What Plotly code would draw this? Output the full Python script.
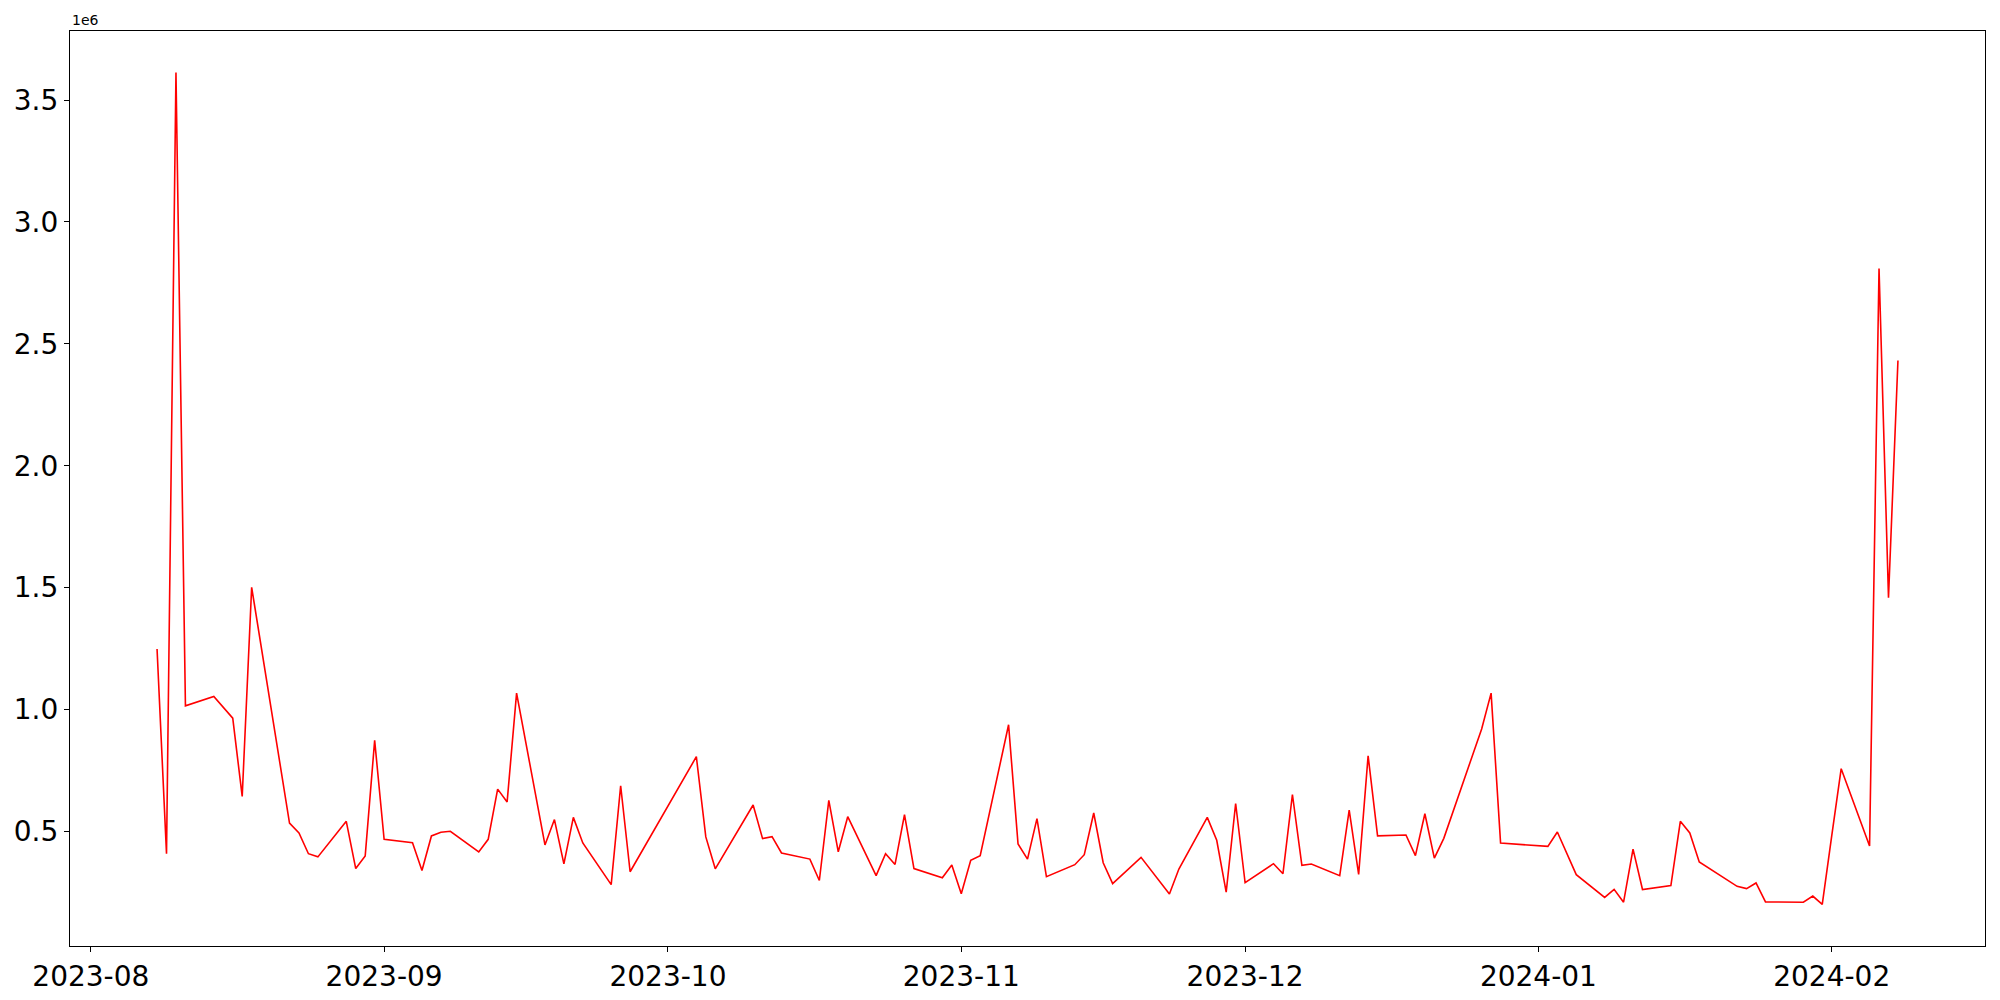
import pandas as pd
import plotly.graph_objects as go

# daily values (units of 1e6)
dates = [
    "2023-08-08", "2023-08-09", "2023-08-10", "2023-08-11", "2023-08-14", "2023-08-16",
    "2023-08-17", "2023-08-18", "2023-08-22", "2023-08-23", "2023-08-24", "2023-08-25",
    "2023-08-28", "2023-08-29", "2023-08-30", "2023-08-31", "2023-09-01", "2023-09-04",
    "2023-09-05", "2023-09-06", "2023-09-07", "2023-09-08", "2023-09-11", "2023-09-12",
    "2023-09-13", "2023-09-14", "2023-09-15", "2023-09-18", "2023-09-19", "2023-09-20",
    "2023-09-21", "2023-09-22", "2023-09-25", "2023-09-26", "2023-09-27", "2023-10-04",
    "2023-10-05", "2023-10-06", "2023-10-10", "2023-10-11", "2023-10-12", "2023-10-13",
    "2023-10-16", "2023-10-17", "2023-10-18", "2023-10-19", "2023-10-20", "2023-10-23",
    "2023-10-24", "2023-10-25", "2023-10-26", "2023-10-27", "2023-10-30", "2023-10-31",
    "2023-11-01", "2023-11-02", "2023-11-03", "2023-11-06", "2023-11-07", "2023-11-08",
    "2023-11-09", "2023-11-10", "2023-11-13", "2023-11-14", "2023-11-15", "2023-11-16",
    "2023-11-17", "2023-11-20", "2023-11-23", "2023-11-24", "2023-11-27", "2023-11-28",
    "2023-11-29", "2023-11-30", "2023-12-01", "2023-12-04", "2023-12-05", "2023-12-06",
    "2023-12-07", "2023-12-08", "2023-12-11", "2023-12-12", "2023-12-13", "2023-12-14",
    "2023-12-15", "2023-12-18", "2023-12-19", "2023-12-20", "2023-12-21", "2023-12-22",
    "2023-12-26", "2023-12-27", "2023-12-28", "2024-01-02", "2024-01-03", "2024-01-05",
    "2024-01-08", "2024-01-09", "2024-01-10", "2024-01-11", "2024-01-12", "2024-01-15",
    "2024-01-16", "2024-01-17", "2024-01-18", "2024-01-22", "2024-01-23", "2024-01-24",
    "2024-01-25", "2024-01-29", "2024-01-30", "2024-01-31", "2024-02-01", "2024-02-02",
    "2024-02-05", "2024-02-06", "2024-02-07", "2024-02-08",
]

values_m = [
    1.248, 0.408, 3.613, 1.015, 1.053, 0.964,
    0.643, 1.501, 0.534, 0.493, 0.408, 0.395,
    0.541, 0.347, 0.399, 0.873, 0.467, 0.453,
    0.339, 0.481, 0.496, 0.500, 0.415, 0.467,
    0.673, 0.620, 1.067, 0.444, 0.548, 0.366,
    0.557, 0.452, 0.281, 0.687, 0.334, 0.806,
    0.477, 0.346, 0.608, 0.470, 0.478, 0.411,
    0.386, 0.298, 0.627, 0.416, 0.560, 0.318,
    0.408, 0.364, 0.568, 0.347, 0.309, 0.362,
    0.244, 0.381, 0.400, 0.937, 0.448, 0.386,
    0.552, 0.314, 0.363, 0.404, 0.575, 0.371,
    0.285, 0.393, 0.243, 0.345, 0.557, 0.463,
    0.250, 0.614, 0.289, 0.367, 0.326, 0.651,
    0.360, 0.366, 0.318, 0.587, 0.323, 0.810,
    0.481, 0.485, 0.400, 0.572, 0.390, 0.471,
    0.920, 1.067, 0.452, 0.438, 0.497, 0.322,
    0.229, 0.262, 0.209, 0.427, 0.261, 0.277,
    0.541, 0.493, 0.374, 0.274, 0.265, 0.288,
    0.210, 0.209, 0.234, 0.200, 0.481, 0.757,
    0.440, 2.809, 1.458, 2.432,
]

ytick_vals = [0.5, 1.0, 1.5, 2.0, 2.5, 3.0, 3.5]

x = pd.to_datetime(dates)
y = [v * 1e6 for v in values_m]

# matplotlib-style 5% margins
span = x.max() - x.min()
x_range = [x.min() - span * 0.05, x.max() + span * 0.05]
vmin, vmax = min(y), max(y)
pad = (vmax - vmin) * 0.05
y_range = [vmin - pad, vmax + pad]

fig = go.Figure(
    go.Scatter(
        x=x,
        y=y,
        mode="lines",
        line=dict(color="red", width=1.6),
        showlegend=False,
    )
)

axis_style = dict(
    showline=True,
    linecolor="black",
    linewidth=1.2,
    mirror=True,
    showgrid=False,
    zeroline=False,
    automargin=False,
    ticks="outside",
    ticklen=5,
    tickwidth=1.2,
    tickcolor="black",
    tickfont=dict(family="DejaVu Sans", size=28, color="black"),
)

fig.update_xaxes(
    range=x_range,
    tick0="2023-08-01",
    dtick="M1",
    tickformat="%Y-%m",
    **axis_style,
)
fig.update_yaxes(
    range=y_range,
    tickvals=[v * 1e6 for v in ytick_vals],
    ticktext=[f"{v:.1f}" for v in ytick_vals],
    **axis_style,
)

fig.add_annotation(
    text="1e6",
    xref="paper", yref="paper",
    x=0, y=1,
    xanchor="left", yanchor="bottom",
    yshift=1,
    showarrow=False,
    font=dict(family="DejaVu Sans", size=14, color="black"),
)

# the page body adds an 8px offset, so margins are trimmed by that amount
fig.update_layout(
    width=2000,
    height=1000,
    margin=dict(l=62, r=23, t=23, b=62),
    plot_bgcolor="white",
    paper_bgcolor="white",
    font=dict(family="DejaVu Sans", color="black"),
)

fig.write_html("out.html")
